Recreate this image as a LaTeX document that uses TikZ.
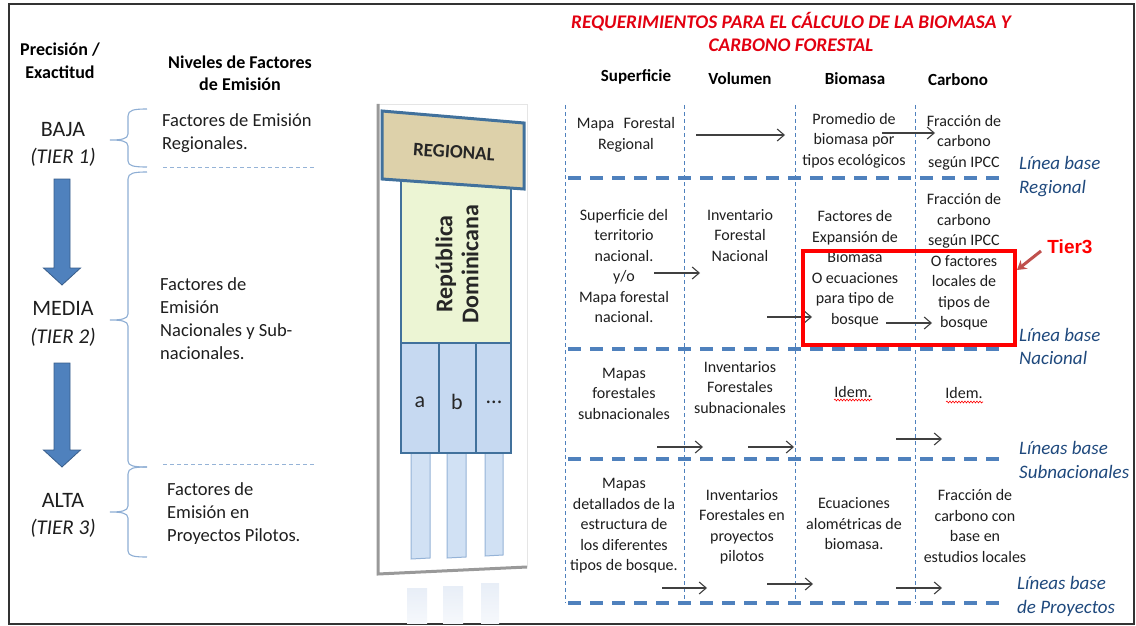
\documentclass[tikz,border=0pt]{standalone}
\usepackage{fontspec}
\setmainfont{Carlito}
\newfontfamily\arialf{Liberation Sans}
\usetikzlibrary{arrows.meta,calc,decorations.pathmorphing}
\definecolor{dblue}{RGB}{79,129,189}
\definecolor{dkblue}{RGB}{56,93,138}
\definecolor{boxblue}{RGB}{65,113,156}
\definecolor{lblue}{RGB}{149,179,215}
\definecolor{tanfill}{RGB}{221,209,170}
\definecolor{greenfill}{RGB}{236,245,212}
\definecolor{cellblue}{RGB}{198,217,241}
\definecolor{reflect}{RGB}{232,238,247}
\definecolor{titlered}{RGB}{226,0,16}
\definecolor{labblue}{RGB}{31,73,125}
\definecolor{tierarrow}{RGB}{192,80,77}
\definecolor{txtgray}{RGB}{30,30,30}
\tikzset{
  cell/.style={font=\fontsize{16}{20.5}\selectfont, align=center, inner sep=0pt, text=txtgray},
  lefttxt/.style={font=\fontsize{18.5}{23}\selectfont, align=left, anchor=west, inner sep=0pt, text=txtgray},
  hdr/.style={font=\bfseries\fontsize{18}{22.5}\selectfont, align=center, inner sep=0pt, text=black},
  colhdr/.style={font=\bfseries\fontsize{17}{20}\selectfont, inner sep=0pt, text=black},
  level/.style={font=\fontsize{22}{26}\selectfont, inner sep=0pt, text=txtgray},
  tier/.style={font=\itshape\fontsize{21}{25}\selectfont, inner sep=0pt, text=txtgray},
  rowlab/.style={font=\itshape\fontsize{19}{23.5}\selectfont, align=left, anchor=west, inner sep=0pt, text=labblue},
  arr/.style={draw=black!75, line width=1.1, -{Straight Barb[length=7,width=12]}},
  vline/.style={draw=dblue, line width=0.9, dash pattern=on 4 off 3},
  hline/.style={draw=dblue, line width=3.5, dash pattern=on 13 off 9},
  thindash/.style={draw=lblue, line width=0.9, dash pattern=on 4 off 3},
  brace/.style={draw=lblue!90!dblue, line width=1.1},
  bigarr/.style={fill=dblue, draw=dkblue, line width=0.8},
  squig/.style={draw=red, line width=0.6, decorate, decoration={snake, amplitude=0.9, segment length=3}},
}
\begin{document}
\begin{tikzpicture}[x=1pt,y=-1pt]
\useasboundingbox (0,0) rectangle (1136,626);
% frame
\draw[black!80, line width=1.4] (9,4) rectangle (1134,624);

% ---------- left column ----------
\node[hdr] (prec) at (60,61) {Precisión /\\Exactitud};
\node[hdr] (niv) at (240,73.5) {Niveles de Factores\\de Emisión};

\node[level] (baja) at (63,130) {BAJA};
\node[tier] (t1) at (63,157) {(TIER 1)};
\node[level] (media) at (63,308) {MEDIA};
\node[tier] (t2) at (63,337) {(TIER 2)};
\node[level] (alta) at (63,500) {ALTA};
\node[tier] (t3) at (63,528) {(TIER 3)};

% block arrows
\coordinate (a1top) at (62,179);
\coordinate (a1tip) at (62,285);
\coordinate (a2top) at (62,363);
\coordinate (a2tip) at (62,467);
\draw[bigarr] ($(a1top)+(-8,0)$) -- ($(a1top)+(8,0)$) -- ($(a1tip)+(8,-17)$) -- ($(a1tip)+(18.5,-17)$) -- (a1tip) -- ($(a1tip)+(-18.5,-17)$) -- ($(a1tip)+(-8,-17)$) -- cycle;
\draw[bigarr] ($(a2top)+(-8,0)$) -- ($(a2top)+(8,0)$) -- ($(a2tip)+(8,-17)$) -- ($(a2tip)+(18.5,-17)$) -- (a2tip) -- ($(a2tip)+(-18.5,-17)$) -- ($(a2tip)+(-8,-17)$) -- cycle;

% braces
\draw[brace] (147,109) .. controls (134,109) and (128,110) .. (128,116) -- (128,134) .. controls (128,139) and (121,140) .. (110,140) .. controls (121,140) and (128,141) .. (128,146) -- (128,161) .. controls (128,166) and (134,167) .. (147,167);
\draw[brace] (147,172) .. controls (134,172) and (128,173) .. (128,179) -- (128,314) .. controls (128,319) and (121,320) .. (110,320) .. controls (121,320) and (128,321) .. (128,326) -- (128,461) .. controls (128,466) and (134,467) .. (147,467);
\draw[brace] (147,467) .. controls (134,467) and (128,468) .. (128,474) -- (128,506) .. controls (128,511) and (121,512) .. (110,512) .. controls (121,512) and (128,513) .. (128,518) -- (128,551) .. controls (128,556) and (134,557) .. (147,557);

\node[lefttxt] (fe1) at (162,133.5) {Factores de Emisión\\Regionales.};
\node[lefttxt] (fe2) at (160,319) {Factores de\\Emisión\\Nacionales y Sub-\\nacionales.};
\node[lefttxt] (fe3) at (167,514) {Factores de\\Emisión en\\Proyectos Pilotos.};
\coordinate (d1a) at (163,167); \coordinate (d1b) at (314,167);
\coordinate (d2a) at (163,464); \coordinate (d2b) at (314,464);
\draw[thindash] (d1a) -- (d1b);
\draw[thindash] (d2a) -- (d2b);

% ---------- middle graphic ----------
\shade[top color=reflect, bottom color=reflect!40] (407,588) rectangle (427,623);
\shade[top color=reflect, bottom color=reflect!40] (443,586) rectangle (463,623);
\shade[top color=reflect, bottom color=reflect!40] (481,583) rectangle (499,623);
\draw[black!10, line width=0.8] (379,104) -- (527,104) -- (527,567);
\draw[black!40, line width=3] (378,104) -- (378,574) -- (527,567);
\draw[lblue, fill=cellblue!80, line width=1] (411,453) -- (430,453) -- (430,558) -- (411,559) -- cycle;
\draw[lblue, fill=cellblue!80, line width=1] (447,453) -- (466,453) -- (466,557) -- (447,558) -- cycle;
\draw[lblue, fill=cellblue!80, line width=1] (485,453) -- (503,453) -- (503,555) -- (485,556) -- cycle;
\draw[boxblue, fill=greenfill, line width=2.8] (401,177) rectangle (511,343);
\draw[boxblue, fill=cellblue, line width=2.8] (401,343) rectangle (511,453);
\draw[boxblue, line width=1.4] (439,343) -- (439,453) (476,343) -- (476,453);
\draw[boxblue, fill=tanfill, line width=3] (382,111) -- (524,123) -- (524,189) -- (382,179) -- cycle;
\node[font=\bfseries\fontsize{19}{22}\selectfont, rotate=-4, inner sep=0pt, text=black!85] (reg) at (454,152) {REGIONAL};
\node[font=\bfseries\fontsize{24}{26}\selectfont, rotate=90, align=center, inner sep=0pt, text=black!85] (rd) at (457,264) {República\\Dominicana};
\node[font=\fontsize{22}{24}\selectfont, inner sep=0pt, text=black!85] (ca) at (420,402) {a};
\node[font=\fontsize{22}{24}\selectfont, inner sep=0pt, text=black!85] (cb) at (457,402) {b};
\node[font=\fontsize{22}{24}\selectfont, inner sep=0pt, text=black!85] (cc) at (494,402) {...};

% ---------- right table ----------
\node[font=\bfseries\itshape\fontsize{19.3}{23}\selectfont, align=center, text=titlered, inner sep=0pt] (title) at (791,31.5) {REQUERIMIENTOS PARA EL CÁLCULO DE LA BIOMASA Y\\CARBONO FORESTAL};
\node[colhdr] (h1) at (636,77) {Superficie};
\node[colhdr] (h2) at (740,79) {Volumen};
\node[colhdr] (h3) at (855,79) {Biomasa};
\node[colhdr] (h4) at (958,80) {Carbono};

% vertical dotted lines
\foreach \x/\n in {565/v1,684/v2,795/v3,915/v4}{
  \coordinate (\n a) at (\x,105);
  \coordinate (\n b) at (\x,603);
  \draw[vline] (\n a) -- (\n b);
}
% horizontal dashed lines
\foreach \y/\n in {178/hh1,349/hh2,459/hh3,603/hh4}{
  \coordinate (\n a) at (568,\y);
  \coordinate (\n b) at (1006,\y);
  \draw[hline] (\n a) -- (\n b);
}

% row labels
\node[rowlab] (lb1) at (1019,176.5) {Línea base\\Regional};
\node[rowlab] (lb2) at (1019,346.5) {Línea base\\Nacional};
\node[rowlab] (lb3) at (1019,460) {Líneas base\\Subnacionales};
\node[rowlab] (lb4) at (1017,596.5) {Líneas base\\de Proyectos};

% row 1
\node[cell] (c11) at (626,135) {Mapa\hspace{0.35em} Forestal\\Regional};
\node[cell] (c13) at (854,140.5) {Promedio de\\biomasa por\\tipos ecológicos};
\node[cell] (c14) at (964,142.5) {Fracción de\\carbono\\según IPCC};
\coordinate (r1a) at (696,135); \coordinate (r1b) at (785,135);
\coordinate (r1c) at (882,133); \coordinate (r1d) at (935,133);
\draw[arr] (r1a) -- (r1b);
\draw[arr] (r1c) -- (r1d);

% row 2
\node[cell] (c21) at (624,266) {Superficie del\\territorio\\nacional.\\y/o\\Mapa forestal\\nacional.};
\node[cell] (c22) at (740,235.5) {Inventario\\Forestal\\Nacional};
\node[cell] (c23) at (855,268.5) {Factores de\\Expansión de\\Biomasa\\O ecuaciones\\para tipo de\\bosque};
\node[cell] (c24) at (964,262) {Fracción de\\carbono\\según IPCC\\O factores\\locales de\\tipos de\\bosque};
\coordinate (r2a) at (654,273); \coordinate (r2b) at (700,273);
\coordinate (r2c) at (767,317); \coordinate (r2d) at (812,317);
\coordinate (r2e) at (886,323); \coordinate (r2f) at (932,323);
\draw[arr] (r2a) -- (r2b);
\draw[arr] (r2c) -- (r2d);
\draw[arr] (r2e) -- (r2f);
\draw[red, line width=3.2] (803,251) rectangle (1015,345);
\node[font=\arialf\bfseries\fontsize{19}{22}\selectfont, text=red, inner sep=0pt] (tier3) at (1070,247) {Tier3};
\coordinate (t3s) at (1041,251);
\coordinate (t3e) at (1017,270);
\draw[tierarrow, line width=3, -{Stealth[length=9,width=11]}] (t3s) -- (t3e);

% row 3
\node[cell] (c31) at (624,393.5) {Mapas\\forestales\\subnacionales};
\node[cell] (c32) at (740,387.5) {Inventarios\\Forestales\\subnacionales};
\node[cell] (c33) at (853,392) {Idem.};
\node[cell] (c34) at (964,393) {Idem.};
\coordinate (q1a) at (834,400); \coordinate (q1b) at (872,400);
\coordinate (q2a) at (946,402); \coordinate (q2b) at (983,402);
\draw[squig] (q1a) -- (q1b);
\draw[squig] (q2a) -- (q2b);
\coordinate (r3a) at (657,447); \coordinate (r3b) at (703,447);
\coordinate (r3c) at (748,447); \coordinate (r3d) at (794,447);
\coordinate (r3e) at (896,439); \coordinate (r3f) at (942,439);
\draw[arr] (r3a) -- (r3b);
\draw[arr] (r3c) -- (r3d);
\draw[arr] (r3e) -- (r3f);

% row 4
\node[cell] (c41) at (624,526) {Mapas\\detallados de la\\estructura de\\los diferentes\\tipos de bosque.};
\node[cell] (c42) at (742,527) {Inventarios\\Forestales en\\proyectos\\pilotos};
\node[cell] (c43) at (854,524) {Ecuaciones\\alométricas de\\biomasa.};
\node[cell] (c44) at (975,526) {Fracción de\\carbono con\\base en\\estudios locales};
\coordinate (r4a) at (662,588); \coordinate (r4b) at (707,588);
\coordinate (r4c) at (767,584); \coordinate (r4d) at (813,584);
\coordinate (r4e) at (896,588); \coordinate (r4f) at (942,588);
\draw[arr] (r4a) -- (r4b);
\draw[arr] (r4c) -- (r4d);
\draw[arr] (r4e) -- (r4f);
\end{tikzpicture}
\end{document}
